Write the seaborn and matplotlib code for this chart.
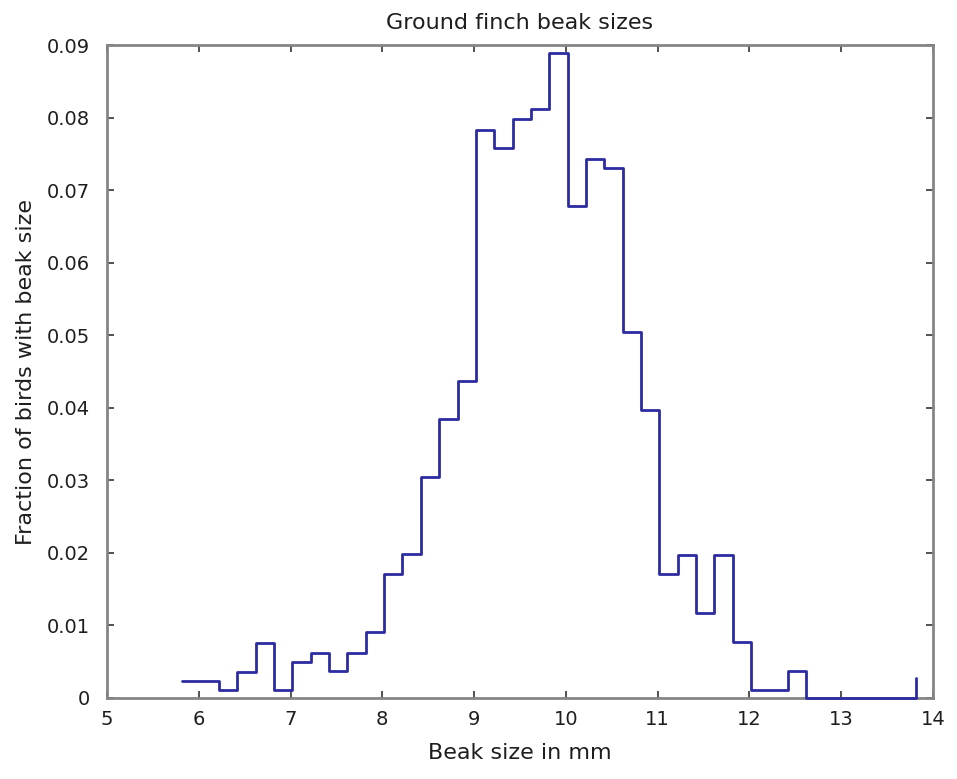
import matplotlib
matplotlib.use("Agg")
import matplotlib.pyplot as plt
import seaborn as sns
import pandas as pd

# Left edge of each 0.2 mm beak-size bin and the fraction of birds in it
beak_size = [5.82, 6.02, 6.22, 6.42, 6.62, 6.82, 7.02, 7.22, 7.42, 7.62,
             7.82, 8.02, 8.22, 8.42, 8.62, 8.82, 9.02, 9.22, 9.42, 9.62,
             9.82, 10.02, 10.22, 10.42, 10.62, 10.82, 11.02, 11.22, 11.42, 11.62,
             11.82, 12.02, 12.22, 12.42, 12.62, 12.82, 13.02, 13.22, 13.42, 13.62,
             13.82]
fraction = [0.0023, 0.0023, 0.0011, 0.0036, 0.0076, 0.0011, 0.0050, 0.0062, 0.0037, 0.0062,
            0.0091, 0.0171, 0.0198, 0.0305, 0.0385, 0.0437, 0.0783, 0.0758, 0.0798, 0.0812,
            0.0889, 0.0678, 0.0743, 0.0730, 0.0504, 0.0397, 0.0171, 0.0197, 0.0117, 0.0197,
            0.0077, 0.0011, 0.0011, 0.0037, 0.0, 0.0, 0.0, 0.0, 0.0, 0.0,
            0.0028]

x_ticks = [5, 6, 7, 8, 9, 10, 11, 12, 13, 14]
y_ticks = [0, 0.01, 0.02, 0.03, 0.04, 0.05, 0.06, 0.07, 0.08, 0.09]
y_tick_labels = ["0", "0.01", "0.02", "0.03", "0.04", "0.05", "0.06", "0.07", "0.08", "0.09"]

df = pd.DataFrame({"beak": beak_size, "frac": fraction})

sns.set_style("white")
plt.rcParams["font.family"] = ["DejaVu Sans"]

fig = plt.figure(figsize=(9.57, 7.79), dpi=100)
ax = fig.add_axes([0.1118, 0.104, 0.863, 0.838])

sns.lineplot(data=df, x="beak", y="frac", ax=ax, estimator=None,
             drawstyle="steps-post", color="#2c2ca0", linewidth=2.0,
             zorder=3, clip_on=False)

ax.set_xlim(5, 14)
ax.set_ylim(0, 0.09)
ax.set_xticks(x_ticks)
ax.set_xticklabels([str(t) for t in x_ticks])
ax.set_yticks(y_ticks)
ax.set_yticklabels(y_tick_labels)

for side in ["left", "right", "top", "bottom"]:
    ax.spines[side].set_visible(True)
    ax.spines[side].set_color("#858585")
    ax.spines[side].set_linewidth(2.0)
    ax.spines[side].set_zorder(2)

ax.tick_params(axis="both", which="major", direction="in", length=5, width=1.3,
               color="#444444", labelsize=14, labelcolor="#1e1e1e",
               top=True, right=True, bottom=True, left=True)
ax.tick_params(axis="x", pad=9)
ax.tick_params(axis="y", pad=12)

ax.set_title("Ground finch beak sizes", fontsize=16, color="#1e1e1e", pad=12)
ax.set_xlabel("Beak size in mm", fontsize=16, color="#1e1e1e", labelpad=10)
ax.set_ylabel("Fraction of birds with beak size", fontsize=16, color="#1e1e1e", labelpad=8)

fig.savefig("out.png", dpi=100, facecolor="white")
